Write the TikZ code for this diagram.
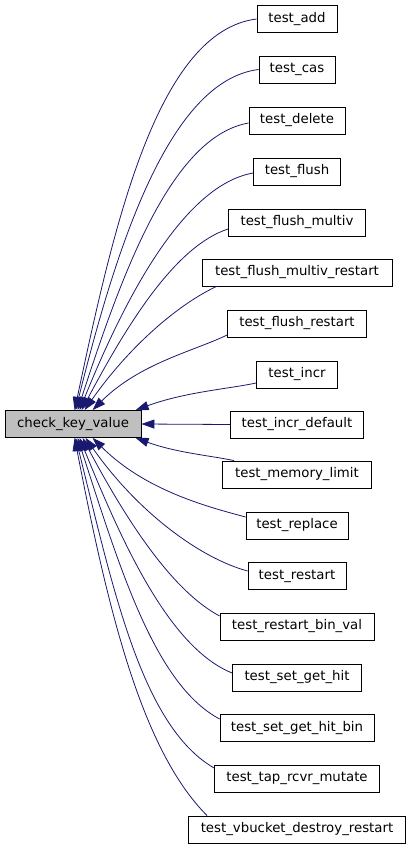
\documentclass[tikz,border=0pt]{standalone}
\usepackage{fontspec}
\setmainfont{DejaVu Sans}
\usetikzlibrary{arrows.meta}
\definecolor{edgeblue}{RGB}{25,25,112}
\definecolor{hlgray}{RGB}{191,191,191}

\begin{document}
\begin{tikzpicture}[x=1pt, y=1pt,
    fn/.style={draw=black, line width=0.8pt, minimum height=27pt, inner sep=0pt,
               font=\fontsize{13.3}{16}\selectfont},
    caller/.style={->, draw=edgeblue, line width=0.8pt,
                   >={Triangle[length=13pt, width=9pt]},
                   out looseness=0.6, in looseness=1.1}]

        \useasboundingbox (0,0) rectangle (411,-848);

        % --- Вызываемая функция ---
        \node[fn, fill=hlgray, minimum width=136pt] (ckv) at (73,-424) {check\_key\_value};

        % --- Вызывающие функции ---
        \node[fn, minimum width=80pt]  (add)   at (297,-19)    {test\_add};
        \node[fn, minimum width=76pt]  (cas)   at (297,-69.5)  {test\_cas};
        \node[fn, minimum width=96pt]  (del)   at (297,-120.5) {test\_delete};
        \node[fn, minimum width=87pt]  (flush) at (297,-171.5) {test\_flush};
        \node[fn, minimum width=137pt] (fmv)   at (297,-222.5) {test\_flush\_multiv};
        \node[fn, minimum width=190pt] (fmvr)  at (297,-272.5) {test\_flush\_multiv\_restart};
        \node[fn, minimum width=139pt] (fr)    at (297,-323.5) {test\_flush\_restart};
        \node[fn, minimum width=81pt]  (incr)  at (297,-374.5) {test\_incr};
        \node[fn, minimum width=133pt] (incrd) at (297,-424.5) {test\_incr\_default};
        \node[fn, minimum width=149pt] (mem)   at (297,-474.5) {test\_memory\_limit};
        \node[fn, minimum width=102pt] (repl)  at (297,-525.5) {test\_replace};
        \node[fn, minimum width=98pt]  (rst)   at (297,-576)   {test\_restart};
        \node[fn, minimum width=154pt] (rbv)   at (297,-626.5) {test\_restart\_bin\_val};
        \node[fn, minimum width=129pt] (sgh)   at (297,-677.5) {test\_set\_get\_hit};
        \node[fn, minimum width=154pt] (sghb)  at (297,-728)   {test\_set\_get\_hit\_bin};
        \node[fn, minimum width=165pt] (tap)   at (297,-778.5) {test\_tap\_rcvr\_mutate};
        \node[fn, minimum width=217pt] (vb)    at (297,-829.5) {test\_vbucket\_destroy\_restart};

        % --- Связи сверху ---
        \draw[caller] (add.west) to[out=187, in=78] ([xshift=70pt]ckv.north west);
        \draw[caller] (cas.west) to[out=187, in=76] ([xshift=71pt]ckv.north west);
        \draw[caller] ([yshift=-2.5pt]del.west) to[out=190, in=72] ([xshift=73pt]ckv.north west);
        \draw[caller] ([yshift=-1.5pt]flush.west) to[out=190, in=68] ([xshift=75pt]ckv.north west);
        \draw[caller] ([yshift=-6.5pt]fmv.west) to[out=198, in=62] ([xshift=77pt]ckv.north west);
        \draw[caller] ([xshift=15pt]fmvr.south west) to[out=205, in=55] ([xshift=80pt]ckv.north west);
        \draw[caller] ([yshift=-11.5pt]fr.west) to[out=206, in=45] ([xshift=88pt]ckv.north west);
        \draw[caller] ([yshift=-8.5pt]incr.west) to[out=192, in=20] ([xshift=131pt]ckv.north west);

        % --- Прямая связь ---
        \draw[caller] (incrd.west) -- (ckv.east);

        % --- Связи снизу ---
        \draw[caller] ([xshift=12pt]mem.north west) to[out=168, in=-20] ([xshift=131pt]ckv.south west);
        \draw[caller] ([yshift=8.5pt]repl.west) to[out=165, in=-45] ([xshift=88pt]ckv.south west);
        \draw[caller] ([yshift=5pt]rst.west) to[out=165, in=-55] ([xshift=81pt]ckv.south west);
        \draw[caller] ([yshift=10.5pt]rbv.west) to[out=152, in=-62] ([xshift=78pt]ckv.south west);
        \draw[caller] ([yshift=4.5pt]sgh.west) to[out=158, in=-68] ([xshift=75pt]ckv.south west);
        \draw[caller] ([yshift=9pt]sghb.west) to[out=152, in=-72] ([xshift=73pt]ckv.south west);
        \draw[caller] ([yshift=10.5pt]tap.west) to[out=150, in=-76] ([xshift=71pt]ckv.south west);
        \draw[caller] ([xshift=19pt]vb.north west) to[out=135, in=-79] ([xshift=70pt]ckv.south west);

    \end{tikzpicture}
\end{document}
